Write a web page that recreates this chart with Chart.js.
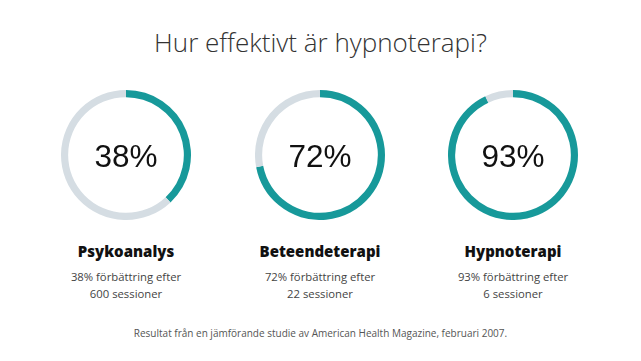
<!DOCTYPE html>
<html lang="sv">
<head>
    <meta charset="UTF-8">
    <title>Hur effektivt är hypnoterapi?</title>
    <style>
        * {
            margin: 0;
            padding: 0;
            box-sizing: border-box;
        }

        body {
            width: 641px;
            height: 361px;
            background: #fff;
            font-family: 'Open Sans', sans-serif;
            position: relative;
            overflow: hidden;
        }

        .title {
            position: absolute;
            top: 24px;
            left: 0;
            width: 641px;
            text-align: center;
            font-size: 26px;
            font-weight: 300;
            color: #333;
        }

        .ring {
            position: absolute;
            top: 90px;
            width: 130px;
            height: 130px;
        }

        .ring canvas {
            position: absolute;
            left: 0;
            top: 0;
        }

        .pct {
            position: absolute;
            left: 0;
            top: 1px;
            width: 130px;
            line-height: 130px;
            text-align: center;
            font-family: 'Liberation Sans', Arial, sans-serif;
            font-size: 31.5px;
            color: #111;
        }

        .label {
            position: absolute;
            top: 240px;
            width: 200px;
            text-align: center;
        }

        .label .name {
            font-size: 15px;
            font-weight: 800;
            color: #111;
            line-height: 22px;
        }

        .label .desc {
            margin-top: 6px;
            font-size: 11.3px;
            color: #444;
            line-height: 17px;
        }

        .note {
            position: absolute;
            top: 326px;
            left: 0;
            width: 641px;
            text-align: center;
            font-size: 10px;
            color: #555;
        }
    </style>
</head>
<body>
    <div class="title">Hur effektivt är hypnoterapi?</div>
    <div id="charts"></div>
    <div class="note">Resultat från en jämförande studie av American Health Magazine, februari 2007.</div>

    <script src="https://cdn.jsdelivr.net/npm/chart.js"></script>
    <script>
        // Data
        const names = ['Psykoanalys', 'Beteendeterapi', 'Hypnoterapi'];
        const percents = [38, 72, 93];
        const sessions = ['600 sessioner', '22 sessioner', '6 sessioner'];

        const centers = [126, 320, 513];
        const teal = '#17999a';
        const gray = '#d5dde3';

        const holder = document.getElementById('charts');

        names.forEach((name, i) => {
            const ring = document.createElement('div');
            ring.className = 'ring';
            ring.style.left = (centers[i] - 65) + 'px';
            ring.innerHTML = '<canvas width="130" height="130"></canvas>' +
                '<div class="pct">' + percents[i] + '%</div>';
            holder.appendChild(ring);

            const label = document.createElement('div');
            label.className = 'label';
            label.style.left = (centers[i] - 100) + 'px';
            label.innerHTML = '<div class="name">' + name + '</div>' +
                '<div class="desc">' + percents[i] + '% förbättring efter<br>' + sessions[i] + '</div>';
            holder.appendChild(label);

            new Chart(ring.querySelector('canvas'), {
                type: 'doughnut',
                data: {
                    labels: ['Förbättring', 'Övrigt'],
                    datasets: [{
                        data: [percents[i], 100 - percents[i]],
                        backgroundColor: [teal, gray],
                        borderWidth: 0
                    }]
                },
                options: {
                    responsive: false,
                    animation: false,
                    cutout: '89%',
                    plugins: {
                        legend: { display: false },
                        tooltip: { enabled: false }
                    }
                }
            });
        });
    </script>
</body>
</html>
